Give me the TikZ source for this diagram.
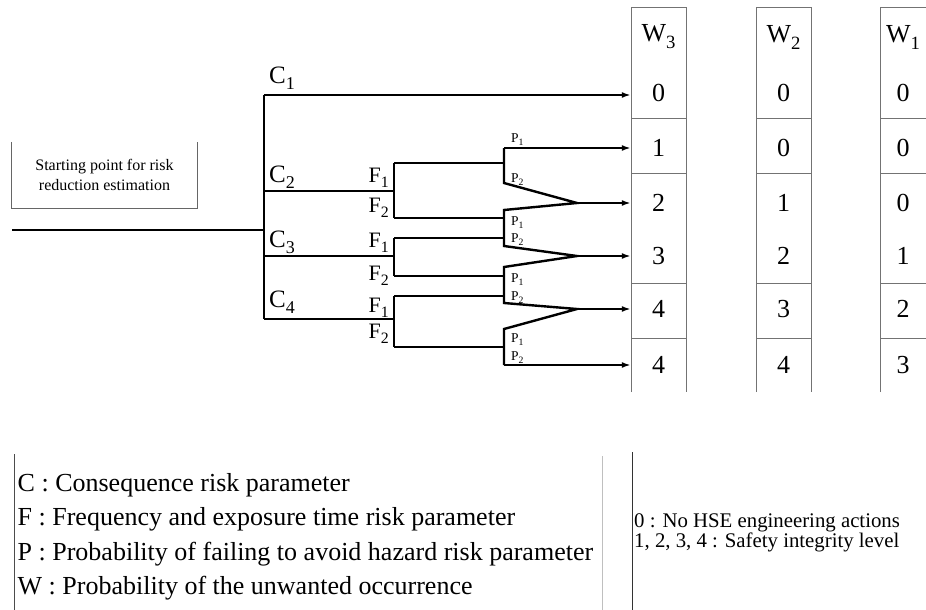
\documentclass[tikz,border=0pt]{standalone}
\usepackage{fontspec}
\setmainfont{Liberation Serif}
\usetikzlibrary{positioning,arrows.meta}

\newcommand{\lowsub}[1]{\raisebox{-0.27em}{\scalebox{0.72}{#1}}}

\begin{document}
\begin{tikzpicture}[x=1pt, y=-1pt, >={Latex[length=9pt,width=6pt]},
    branch/.style={line width=2.4pt},
    cell/.style={draw=black!55, line width=1pt},
    cval/.style={font=\fontsize{26}{30}\selectfont, inner sep=0pt, minimum width=55pt},
    clabel/.style={font=\fontsize{25}{30}\selectfont, inner sep=0pt, anchor=base west},
    flabel/.style={font=\fontsize{22}{26}\selectfont, inner sep=0pt, anchor=base east},
    plabel/.style={font=\fontsize{13.5}{16}\selectfont, inner sep=0pt, anchor=base west},
    keytext/.style={font=\fontsize{26}{30}\selectfont, inner sep=0pt, anchor=base west},
    keysmall/.style={font=\fontsize{20.8}{24}\selectfont, inner sep=0pt, anchor=base west}]
  \useasboundingbox (0,0) rectangle (926,610);
  \clip (0,0) rectangle (926,610);

  % W columns
  \foreach \x in {631,756,880} {
    \draw[cell] (\x,392) -- (\x,8) -- (\x+55,8) -- (\x+55,392);
    \foreach \y in {118,173,283,338}
      \draw[cell] (\x,\y) -- (\x+55,\y);
  }
  \node (w3h) [cval] at (658.5,37) {W\lowsub{3}};
  \node (w2h) [cval] at (783.5,37) {W\lowsub{2}};
  \node (w1h) [cval] at (903,37) {W\lowsub{1}};
  \foreach \y/\v [count=\i] in {93/0,148/1,203/2,256/3,309/4,365/4}
    \node (w3-\i) [cval] at (658.5,\y) {\v};
  \foreach \y/\v [count=\i] in {93/0,148/0,203/1,256/2,309/3,365/4}
    \node (w2-\i) [cval] at (783.5,\y) {\v};
  \foreach \y/\v [count=\i] in {93/0,148/0,203/0,256/1,309/2,365/3}
    \node (w1-\i) [cval] at (903,\y) {\v};

  % starting point
  \node (startbox) [minimum width=185pt, minimum height=66pt, align=center,
    font=\fontsize{16}{20}\selectfont] at (104.5,175) {Starting point for risk\\reduction estimation};
  \draw[black!60, line width=1pt] (startbox.north west) -- (startbox.south west)
    -- (startbox.south east) -- (startbox.north east);

  % C branches
  \coordinate (in) at (12,230);
  \coordinate (root) at (264,230);
  \coordinate (c1) at (264,95);
  \coordinate (c2) at (264,191);
  \coordinate (c3) at (264,256);
  \coordinate (c4) at (264,319);
  \draw[branch] (in) -- (root);
  \draw[branch] (c1) -- (c4);

  % F branches
  \coordinate (f2a) at (394,163);
  \coordinate (f2b) at (394,218);
  \coordinate (f3a) at (394,238);
  \coordinate (f3b) at (394,276);
  \coordinate (f4a) at (394,296);
  \coordinate (f4b) at (394,347);
  \draw[branch] (c2) -- (c2 -| f2a);
  \draw[branch] (c3) -- (c3 -| f3a);
  \draw[branch] (c4) -- (c4 -| f4a);
  \draw[branch] (f2a) -- (f2b);
  \draw[branch] (f3a) -- (f3b);
  \draw[branch] (f4a) -- (f4b);

  % P branches
  \coordinate (p1t) at (504,148);
  \coordinate (p1b) at (504,183);
  \coordinate (p2t) at (504,210);
  \coordinate (p2b) at (504,246);
  \coordinate (p3t) at (504,267);
  \coordinate (p3b) at (504,303);
  \coordinate (p4t) at (504,329);
  \coordinate (p4b) at (504,365);
  \coordinate (m1) at (577,203);
  \coordinate (m2) at (577,256);
  \coordinate (m3) at (577,309);
  \draw[branch] (f2a) -- (f2a -| p1t);
  \draw[branch] (f2b) -- (f2b -| p2t);
  \draw[branch] (f3a) -- (f3a -| p2t);
  \draw[branch] (f3b) -- (f3b -| p3t);
  \draw[branch] (f4a) -- (f4a -| p3t);
  \draw[branch] (f4b) -- (f4b -| p4t);
  \draw[branch] (p1t) -- (p1b) -- (m1) -- (p2t) -- (p2b) -- (m2) -- (p3t) -- (p3b) -- (m3) -- (p4t) -- (p4b);

  % arrows into W3
  \draw[branch,->] (c1) -- (c1 -| w3-1.west);
  \draw[branch,->] (p1t) -- (p1t -| w3-2.west);
  \draw[branch,->] (m1) -- (m1 -| w3-3.west);
  \draw[branch,->] (m2) -- (m2 -| w3-4.west);
  \draw[branch,->] (m3) -- (m3 -| w3-5.west);
  \draw[branch,->] (p4b) -- (p4b -| w3-6.west);

  % labels
  \node (lc1) [clabel] at (269,83) {C\lowsub{1}};
  \node (lc2) [clabel] at (269,182) {C\lowsub{2}};
  \node (lc3) [clabel] at (269,247) {C\lowsub{3}};
  \node (lc4) [clabel] at (269,307) {C\lowsub{4}};
  \node (lf21) [flabel] at (389,182) {F\lowsub{1}};
  \node (lf22) [flabel] at (389,212) {F\lowsub{2}};
  \node (lf31) [flabel] at (389,247) {F\lowsub{1}};
  \node (lf32) [flabel] at (389,280) {F\lowsub{2}};
  \node (lf41) [flabel] at (389,312) {F\lowsub{1}};
  \node (lf42) [flabel] at (389,338) {F\lowsub{2}};
  \node (lp11) [plabel] at (511,142) {P\lowsub{1}};
  \node (lp12) [plabel] at (511,182) {P\lowsub{2}};
  \node (lp21) [plabel] at (511,225) {P\lowsub{1}};
  \node (lp22) [plabel] at (511,242) {P\lowsub{2}};
  \node (lp31) [plabel] at (511,282) {P\lowsub{1}};
  \node (lp32) [plabel] at (511,300) {P\lowsub{2}};
  \node (lp41) [plabel] at (511,342) {P\lowsub{1}};
  \node (lp42) [plabel] at (511,360) {P\lowsub{2}};

  % key
  \draw[black!70, line width=1pt] (14.6,454) -- (14.6,610);
  \draw[black!25, line width=1pt] (602,456) -- (602,610);
  \draw[black!80, line width=1pt] (632,452) -- (632,610);
  \node (keyc) [keytext] at (17.5,491.5) {C : Consequence risk parameter};
  \node (keyf) [keytext] at (17.5,525.8) {F : Frequency and exposure time risk parameter};
  \node (keyp) [keytext] at (17.5,560) {P : Probability of failing to avoid hazard risk parameter};
  \node (keyw) [keytext] at (17.5,594.4) {W : Probability of the unwanted occurrence};
  \node (keyzero) [keysmall] at (634,527) {0 : No HSE engineering actions};
  \node (keysil) [keysmall] at (634,547) {1, 2, 3, 4 : Safety integrity level};
\end{tikzpicture}
\end{document}
